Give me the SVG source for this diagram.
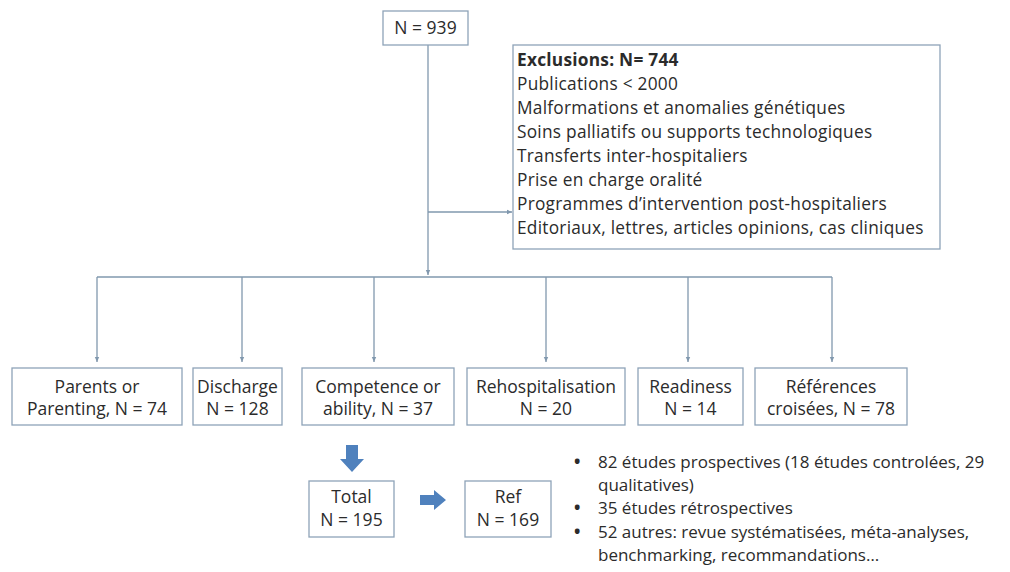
<svg xmlns="http://www.w3.org/2000/svg" width="1010" height="572" viewBox="0 0 1010 572">
<defs>
<style>
.box{fill:#ffffff;stroke:#8ea3b8;stroke-width:1.3}
.ln{fill:none;stroke:#8198ae;stroke-width:1.3}
.t{font-family:"Open Sans",Lato,"Liberation Sans",sans-serif;fill:#2b2b2b}
.c{text-anchor:middle;font-size:17.5px}
.ex{font-size:17.3px;letter-spacing:0.25px}
.bl{font-size:17px}
.dot{font-size:17px;font-weight:bold}
.blue{fill:#4f81bd}
</style>
<marker id="ah" markerWidth="6" markerHeight="6" refX="5" refY="3" orient="auto" markerUnits="userSpaceOnUse">
<path d="M0,0.8 L5,3 L0,5.2 Z" fill="#8198ae"/>
</marker>
</defs>
<rect width="1010" height="572" fill="#ffffff"/>
<g id="connectors">
<path class="ln" d="M428,45 V275" marker-end="url(#ah)"/>
<path class="ln" d="M428,212 H512" marker-end="url(#ah)"/>
<path class="ln" d="M97,277 H832"/>
<path class="ln" d="M97,277 V362" marker-end="url(#ah)"/>
<path class="ln" d="M242,277 V362" marker-end="url(#ah)"/>
<path class="ln" d="M374,277 V362" marker-end="url(#ah)"/>
<path class="ln" d="M546,277 V362" marker-end="url(#ah)"/>
<path class="ln" d="M688,277 V362" marker-end="url(#ah)"/>
<path class="ln" d="M832,277 V362" marker-end="url(#ah)"/>
<path id="arrow-down" class="blue" d="M346,445 H358 V459 H364 L352,472 L340,459 H346 Z"/>
<path id="arrow-right" class="blue" d="M420,495 H434 V490 L446,500 L434,510 V505 H420 Z"/>
</g>
<g id="n939">
<rect class="box" x="383" y="11" width="85" height="34"/>
<text class="t c" x="425.5" y="34">N = 939</text>
</g>
<g id="exclusions">
<rect class="box" x="513" y="45" width="427" height="204"/>
<text class="t ex" x="517" y="66" font-weight="bold">Exclusions: N= 744</text>
<text class="t ex" x="517" y="90">Publications &lt; 2000</text>
<text class="t ex" x="517" y="114">Malformations et anomalies génétiques</text>
<text class="t ex" x="517" y="138">Soins palliatifs ou supports technologiques</text>
<text class="t ex" x="517" y="162">Transferts inter-hospitaliers</text>
<text class="t ex" x="517" y="186">Prise en charge oralité</text>
<text class="t ex" x="517" y="210">Programmes d’intervention post-hospitaliers</text>
<text class="t ex" x="517" y="234">Editoriaux, lettres, articles opinions, cas cliniques</text>
</g>
<g id="parents">
<rect class="box" x="12" y="368" width="170" height="57"/>
<text class="t c" x="97" y="393">Parents or</text>
<text class="t c" x="97" y="415">Parenting, N = 74</text>
</g>
<g id="discharge">
<rect class="box" x="193" y="368" width="89" height="57"/>
<text class="t c" x="237.5" y="393">Discharge</text>
<text class="t c" x="237.5" y="415">N = 128</text>
</g>
<g id="competence">
<rect class="box" x="302" y="368" width="152" height="57"/>
<text class="t c" x="378" y="393">Competence or</text>
<text class="t c" x="378" y="415">ability, N = 37</text>
</g>
<g id="rehospitalisation">
<rect class="box" x="467" y="368" width="158" height="57"/>
<text class="t c" x="546" y="393">Rehospitalisation</text>
<text class="t c" x="546" y="415">N = 20</text>
</g>
<g id="readiness">
<rect class="box" x="638" y="368" width="105" height="57"/>
<text class="t c" x="690.5" y="393">Readiness</text>
<text class="t c" x="690.5" y="415">N = 14</text>
</g>
<g id="references">
<rect class="box" x="755" y="368" width="152" height="57"/>
<text class="t c" x="831" y="393">Références</text>
<text class="t c" x="831" y="415">croisées, N = 78</text>
</g>
<g id="total">
<rect class="box" x="309" y="481" width="85" height="56"/>
<text class="t c" x="351.5" y="503">Total</text>
<text class="t c" x="351.5" y="526">N = 195</text>
</g>
<g id="ref">
<rect class="box" x="465" y="481" width="86" height="56"/>
<text class="t c" x="508" y="503">Ref</text>
<text class="t c" x="508" y="526">N = 169</text>
</g>
<g id="summary">
<text class="t dot" x="574" y="468">•</text>
<text class="t bl" x="598" y="468">82 études prospectives (18 études controlées, 29</text>
<text class="t bl" x="598" y="491">qualitatives)</text>
<text class="t dot" x="574" y="514">•</text>
<text class="t bl" x="598" y="514">35 études rétrospectives</text>
<text class="t dot" x="574" y="538">•</text>
<text class="t bl" x="598" y="538">52 autres: revue systématisées, méta-analyses,</text>
<text class="t bl" x="598" y="561">benchmarking, recommandations…</text>
</g>
</svg>
